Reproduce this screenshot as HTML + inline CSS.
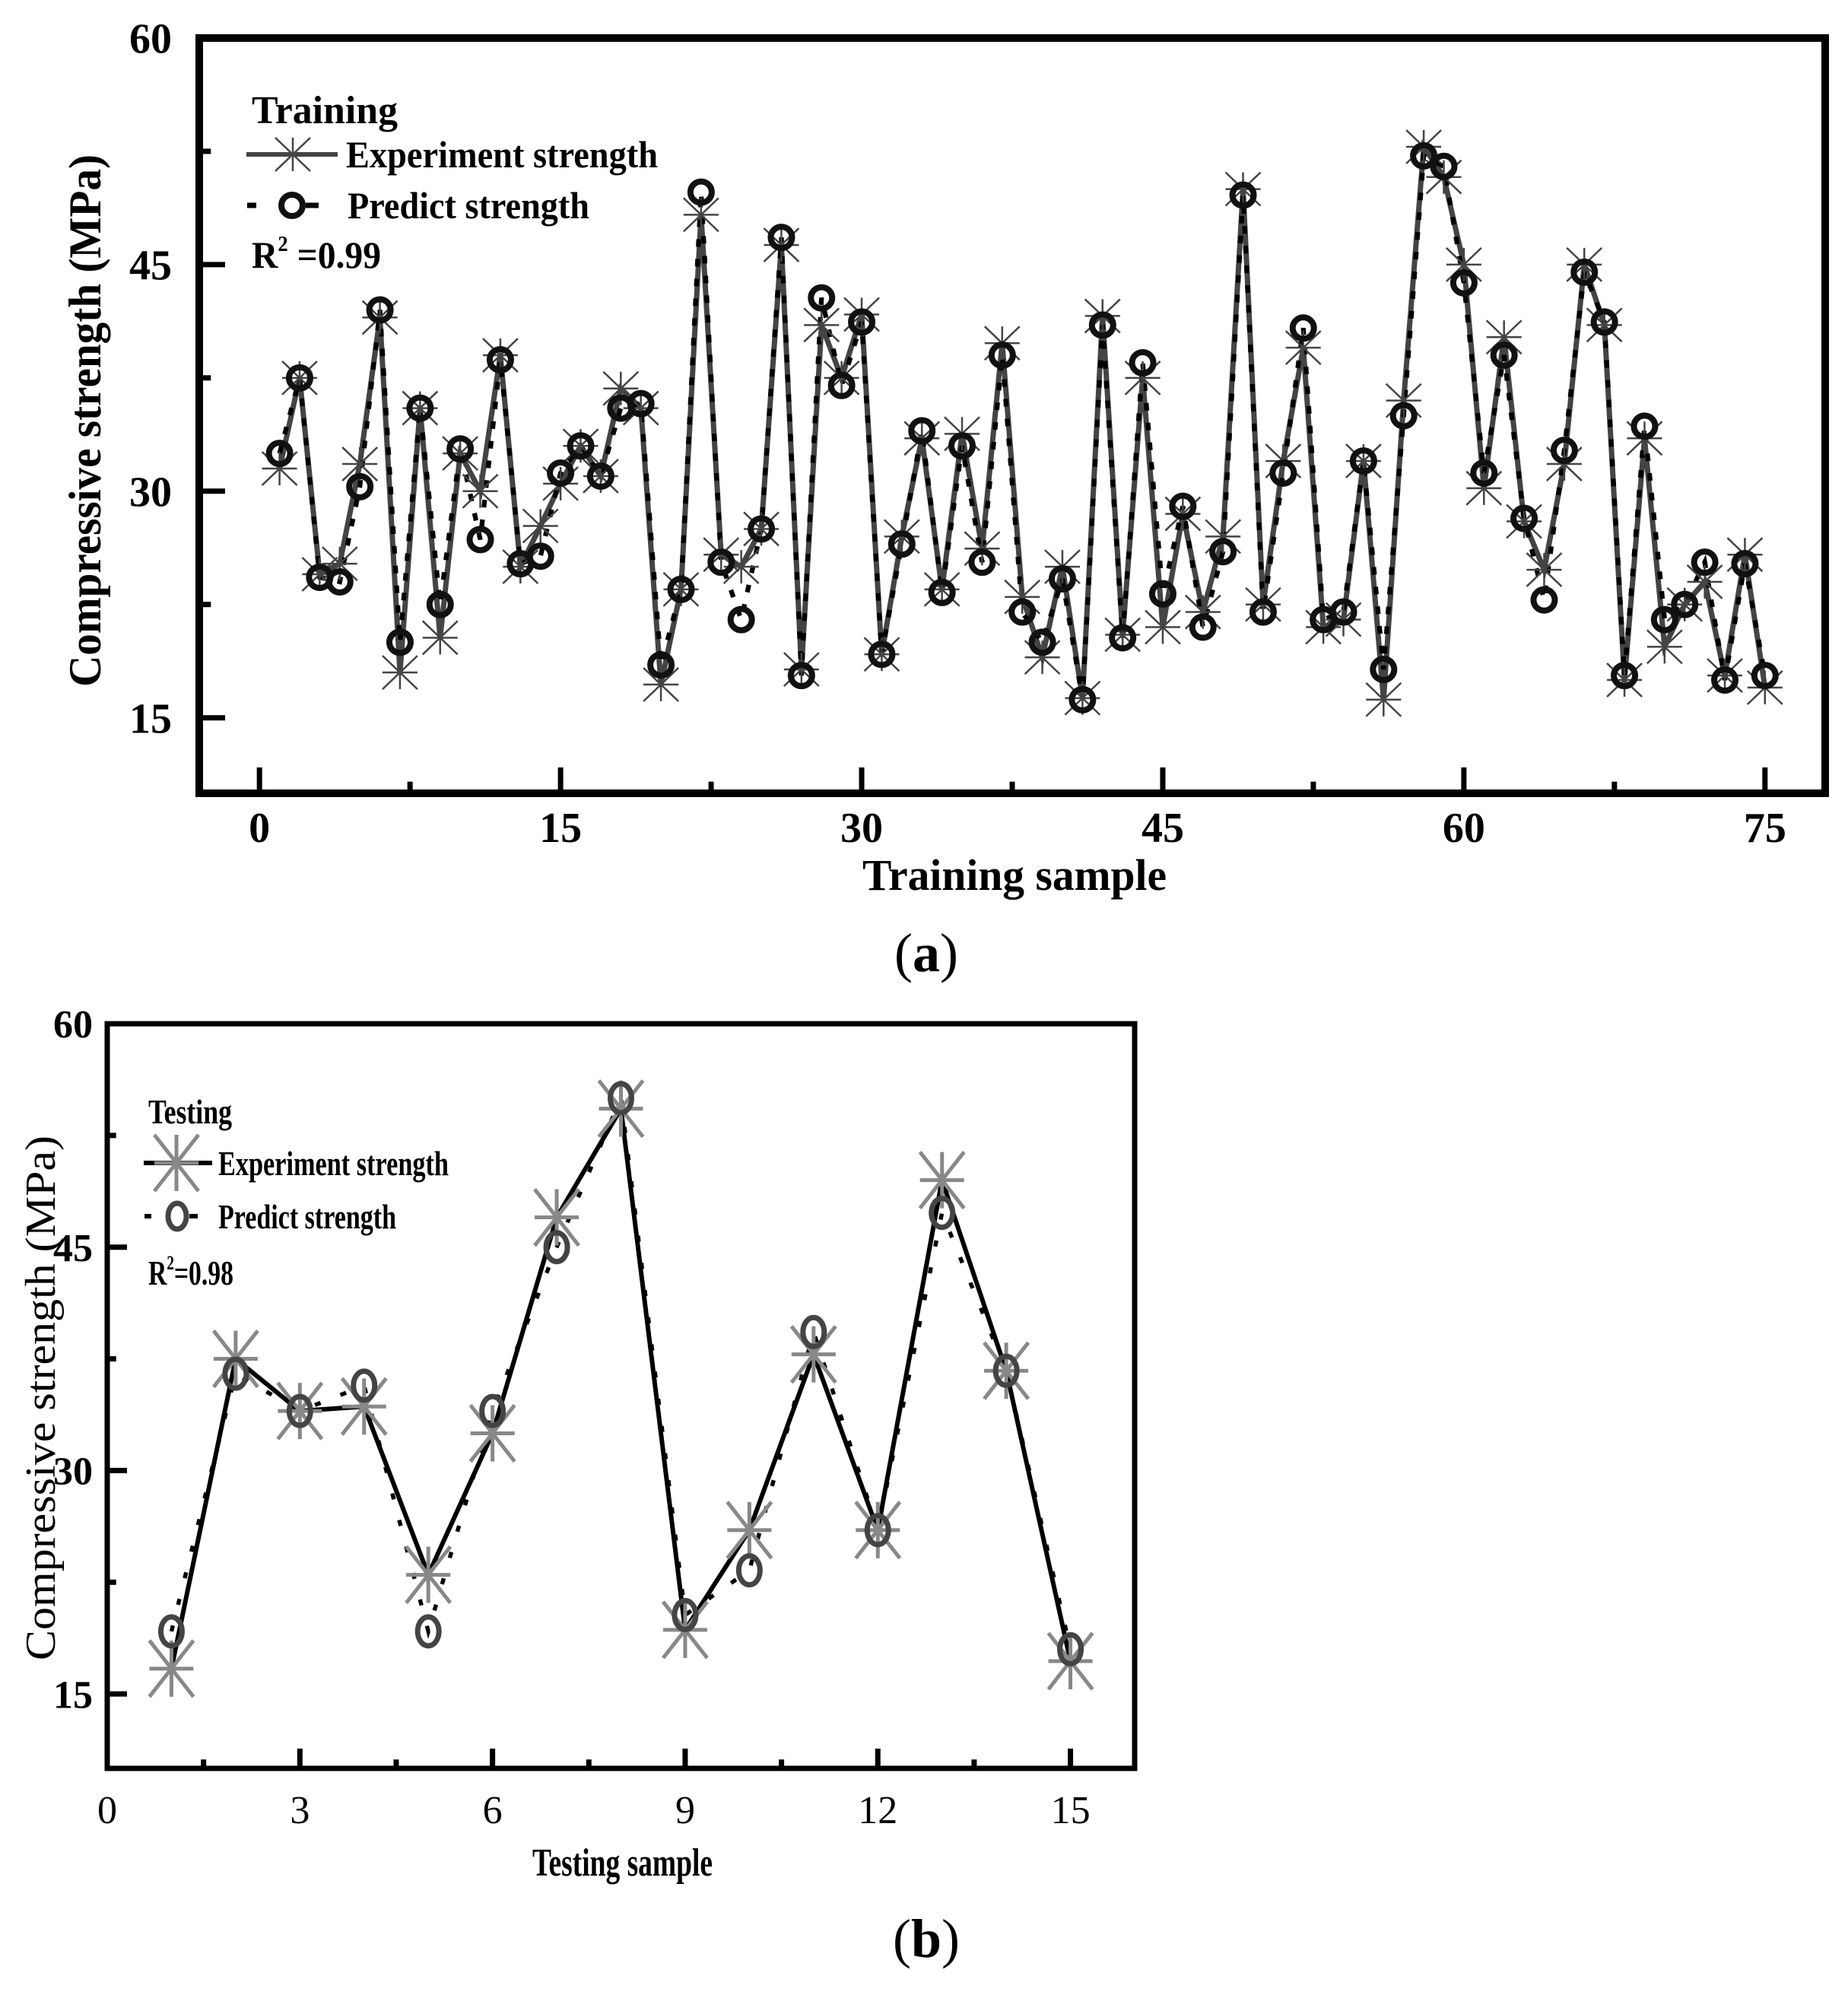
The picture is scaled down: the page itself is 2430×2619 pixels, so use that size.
<!DOCTYPE html>
<html><head><meta charset="utf-8"><style>
html,body{margin:0;padding:0;background:#fff;}
svg{display:block;font-family:"Liberation Serif",serif;}
</style></head><body>
<svg id="fig" xmlns="http://www.w3.org/2000/svg" width="2430" height="2619" viewBox="0 0 2430 2619">
<rect x="0" y="0" width="2430" height="2619" fill="#fff"/>
<g id="chartA"></g>
<g id="chartB"></g>
<text x="1218" y="1277" text-anchor="middle" font-size="72">(<tspan font-weight="bold">a</tspan>)</text>
<text x="1218" y="2573" text-anchor="middle" font-size="72">(<tspan font-weight="bold">b</tspan>)</text>
</svg>
<script>
const trainExp = [31.5,37.5,24.5,25.2,31.8,41.5,18,35.5,20.3,32.5,30,39,25,27.7,30.5,33,31,36.8,35.5,17.2,23.5,48.3,25.8,25,27.5,46.3,18.2,41,37.5,41.7,19.2,27,33.5,23.5,33.8,26.2,39.8,23,19,25,16.3,41.6,20.5,37.5,21,28.5,22,27,50,22.5,32,39.5,21,21.5,32,16.2,36,52.8,50.8,45,30.2,40.2,28,24.8,31.8,45,41,17.5,33.5,19.7,22.5,24,17.8,25.8,17];
const trainPred = [32.5,37.5,24.3,24,30.3,42,20,35.5,22.5,32.8,26.8,38.7,25.2,25.7,31.2,33,31,35.5,35.8,18.5,23.5,49.8,25.3,21.5,27.5,46.8,17.8,42.8,37,41.2,19.2,26.5,34,23.3,33,25.3,39,22,20,24.2,16.2,41,20.3,38.5,23.2,29,21,26,49.6,22,31.2,40.8,21.5,22,32,18.2,35,52.2,51.5,43.8,31.2,39,28.2,22.8,32.7,44.5,41.2,17.8,34.3,21.5,22.5,25.3,17.5,25.2,17.8];
const testExp = [16.7,37.5,34,34.3,23,32.5,47,54.3,19.3,26,37.8,26,49.5,36.7,17.2];
const testPred = [19.2,36.5,34,35.7,19.2,34,45,55,20.3,23.3,39.3,26,47.3,36.7,18];
const yTicks = [15,30,45,60];
const xTicksA = [0,15,30,45,60,75];
const xTicksB = [0,3,6,9,12,15];
const NS = "http://www.w3.org/2000/svg";
function mk(parent, tag, attrs, txt){
  const e = document.createElementNS(NS, tag);
  for (const k in attrs) e.setAttribute(k, attrs[k]);
  if (txt !== undefined) e.textContent = txt;
  parent.appendChild(e);
  return e;
}
function asterisk(g, cx, cy, w, h, col, sw){
  const p = mk(g,'path',{d:`M${cx-w/2},${cy}H${cx+w/2}M${cx},${cy-h/2}V${cy+h/2}M${cx-w/2},${cy-h/2}L${cx+w/2},${cy+h/2}M${cx-w/2},${cy+h/2}L${cx+w/2},${cy-h/2}`,stroke:col,'stroke-width':sw,fill:'none'});
  return p;
}
function draw(cfg){
  const g = document.getElementById(cfg.id);
  const X = v => cfg.L + (v - cfg.x0)/(cfg.x1 - cfg.x0)*(cfg.R - cfg.L);
  const Y = v => cfg.B - (v - 10)/(60 - 10)*(cfg.B - cfg.T);
  // ticks
  for (let v = 15; v <= 60; v += 7.5){
    const major = yTicks.includes(v);
    const t = mk(g,'line',{x1:cfg.L,x2:cfg.L+(major?cfg.tl:cfg.tl*0.45),y1:Y(v),y2:Y(v),stroke:'#000','stroke-width':cfg.tw});
    
    
  }
  yTicks.forEach(v=>{
    const t = mk(g,'text',{x:cfg.ylx,y:Y(v)+cfg.tf*0.35,'text-anchor':'end','font-size':cfg.tf,'font-weight':'bold'},String(v));
    
    
  });
  const xt = cfg.xTicks;
  const step = (xt[1]-xt[0])/2;
  for (let v = xt[0]; v <= xt[xt.length-1]+0.01; v += step){
    const major = xt.includes(v);
    const t = mk(g,'line',{x1:X(v),x2:X(v),y1:cfg.B,y2:cfg.B-(major?cfg.tl:cfg.tl*0.45),stroke:'#000','stroke-width':cfg.tw});
    
    
  }
  xt.forEach(v=>{
    const t = mk(g,'text',{x:X(v),y:cfg.xly,'text-anchor':'middle','font-size':cfg.tf,'font-weight':cfg.xbold?'bold':'normal'},String(v));
    
    
  });
  // lines
  const ptsE = cfg.exp.map((v,i)=>`${X(i+1)},${Y(v)}`).join(' ');
  const ptsP = cfg.pred.map((v,i)=>`${X(i+1)},${Y(v)}`).join(' ');
  const le = mk(g,'polyline',{points:ptsE,fill:'none',stroke:cfg.expLine,'stroke-width':cfg.lw});
  
  
  const lp = mk(g,'polyline',{points:ptsP,fill:'none',stroke:'#000','stroke-width':cfg.lw*0.9,'stroke-dasharray':cfg.dash});
  
  
  cfg.exp.forEach((v,i)=>{
    const m = asterisk(g, X(i+1), Y(v), cfg.aw, cfg.ah, cfg.acol, cfg.asw);
    
    
  });
  cfg.pred.forEach((v,i)=>{
    const m = mk(g,'ellipse',{cx:X(i+1),cy:Y(v),rx:cfg.crx,ry:cfg.cry,fill:'none',stroke:cfg.ccol,'stroke-width':cfg.csw});
    
    
  });
  // frame
  const f = mk(g,'rect',{x:cfg.L,y:cfg.T,width:cfg.R-cfg.L,height:cfg.B-cfg.T,fill:'none',stroke:'#000','stroke-width':cfg.fw});
  
  
  return {X,Y,g};
}
draw({id:'chartA',L:262,R:2400,T:50,B:1043,x0:-3,x1:78,xTicks:xTicksA,exp:trainExp,pred:trainPred,
  tl:34,tw:7,tf:56,ylx:226,xly:1107,xbold:true,fw:10,lw:7,expLine:'#444',dash:'10 16',
  aw:46,ah:44,acol:'#444',asw:2.5,crx:14,cry:14,ccol:'#111',csw:8});
draw({id:'chartB',L:141,R:1492,T:1346,B:2325,x0:0,x1:16,xTicks:xTicksB,exp:testExp,pred:testPred,
  tl:26,tw:7,tf:52,ylx:122,xly:2397,xbold:false,fw:7,lw:6,expLine:'#000',dash:'8 28',
  aw:58,ah:74,acol:'#888',asw:5,crx:14,cry:19,ccol:'#444',csw:7});
</script>
<!-- titles and legends -->
<svg style="position:absolute;left:0;top:0" width="2430" height="2619" xmlns="http://www.w3.org/2000/svg" font-family="Liberation Serif, serif">
<text x="1134" y="1170" font-size="58" font-weight="bold" textLength="400" lengthAdjust="spacingAndGlyphs">Training sample</text>
<text transform="translate(132,553) rotate(-90)" text-anchor="middle" font-size="60" font-weight="bold" textLength="700" lengthAdjust="spacingAndGlyphs">Compressive strength (MPa)</text>
<g>
<text x="331" y="162" font-size="52" font-weight="bold" textLength="192" lengthAdjust="spacingAndGlyphs">Training</text>
<line x1="324" y1="203" x2="444" y2="203" stroke="#444" stroke-width="6"/>
<path d="M362,203H408M385,181V225M362,181L408,225M362,225L408,181" stroke="#444" stroke-width="2.5" fill="none"/>
<text x="455" y="220" font-size="50" font-weight="bold" textLength="410" lengthAdjust="spacingAndGlyphs">Experiment strength</text>
<line x1="325" y1="270" x2="337" y2="270" stroke="#000" stroke-width="7"/>
<line x1="402" y1="270" x2="419" y2="270" stroke="#000" stroke-width="7"/>
<ellipse cx="384" cy="270" rx="14" ry="14" fill="none" stroke="#111" stroke-width="8"/>
<text x="457" y="287" font-size="50" font-weight="bold" textLength="318" lengthAdjust="spacingAndGlyphs">Predict strength</text>
<text x="331" y="352" font-size="50" font-weight="bold" textLength="170" lengthAdjust="spacingAndGlyphs">R<tspan dy="-22" font-size="28">2</tspan><tspan dy="22"> =0.99</tspan></text>
</g>
<text x="700" y="2466" font-size="52" font-weight="bold" textLength="237" lengthAdjust="spacingAndGlyphs">Testing sample</text>
<text transform="translate(72,1838) rotate(-90)" text-anchor="middle" font-size="56" textLength="690" lengthAdjust="spacingAndGlyphs">Compressive strength (MPa)</text>
<g>
<text x="195" y="1477" font-size="46" font-weight="bold" textLength="110" lengthAdjust="spacingAndGlyphs">Testing</text>
<line x1="189" y1="1529" x2="279" y2="1529" stroke="#000" stroke-width="6"/>
<path d="M203,1529H261M232,1492V1566M203,1492L261,1566M203,1566L261,1492" stroke="#888" stroke-width="5" fill="none"/>
<text x="287" y="1545" font-size="46" font-weight="bold" textLength="303" lengthAdjust="spacingAndGlyphs">Experiment strength</text>
<line x1="190" y1="1599" x2="199" y2="1599" stroke="#000" stroke-width="6"/>
<line x1="249" y1="1599" x2="260" y2="1599" stroke="#000" stroke-width="6"/>
<ellipse cx="233" cy="1599" rx="12" ry="17" fill="none" stroke="#444" stroke-width="7"/>
<text x="287" y="1615" font-size="46" font-weight="bold" textLength="234" lengthAdjust="spacingAndGlyphs">Predict strength</text>
<text x="195" y="1689" font-size="46" font-weight="bold" textLength="112" lengthAdjust="spacingAndGlyphs">R<tspan dy="-20" font-size="26">2</tspan><tspan dy="20">=0.98</tspan></text>
</g>
</svg>
</body></html>
